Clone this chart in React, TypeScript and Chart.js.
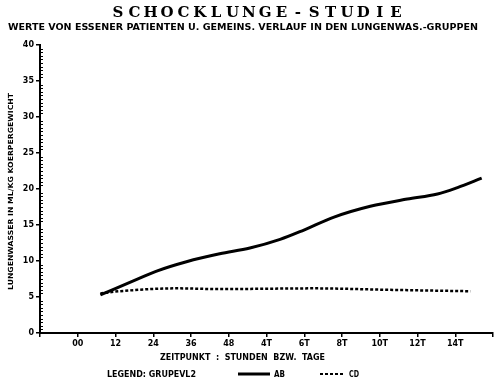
import { useEffect, useRef } from "react";
import { Chart, registerables } from "chart.js";

Chart.register(...registerables);

const TITLE = "SCHOCKLUNGE-STUDIE";
const SUBTITLE = "WERTE VON ESSENER PATIENTEN U. GEMEINS. VERLAUF IN DEN LUNGENWAS.-GRUPPEN";
const X_TITLE = "ZEITPUNKT  :  STUNDEN  BZW.  TAGE";
const Y_TITLE = "LUNGENWASSER IN ML/KG KOERPERGEWICHT";
const LEGEND_TITLE = "LEGEND: GRUPEVL2";
const SERIES_NAMES = ["AB", "CD"];

const xTickLabels = ["", "00", "12", "24", "36", "48", "4T", "6T", "8T", "10T", "12T", "14T", ""];
const yTickValues = [0, 5, 10, 15, 20, 25, 30, 35, 40];

const abX = [1.6, 2.55, 3.09, 3.88, 4.76, 5.56, 6.36, 6.99, 7.79, 8.75, 9.73, 10.53, 11.06, 11.7];
const abY = [5.3, 7.4, 8.6, 9.9, 11.0, 11.8, 13.0, 14.3, 16.1, 17.6, 18.6, 19.3, 20.2, 21.5];

const cdX = [1.6, 2.1, 3.62, 4.76, 7.26, 9.2, 11.4];
const cdY = [5.5, 5.8, 6.2, 6.1, 6.2, 6.0, 5.8];

const SANS = "'DejaVu Sans', sans-serif";
const SERIF = "'DejaVu Serif', serif";

function fitText(ctx: CanvasRenderingContext2D, text: string, x0: number, x1: number, y: number, font: string) {
  ctx.save();
  ctx.font = font;
  ctx.textBaseline = "middle";
  ctx.textAlign = "left";
  const w = ctx.measureText(text).width;
  ctx.translate(x0, y);
  ctx.scale((x1 - x0) / w, 1);
  ctx.fillText(text, 0, 0);
  ctx.restore();
}

const textPlugin = {
  id: "texts",
  afterDraw(chart: any) {
    const ctx: CanvasRenderingContext2D = chart.ctx;
    const y = chart.scales.y;
    const area = chart.chartArea;
    ctx.save();
    ctx.fillStyle = "#000";
    ctx.strokeStyle = "#000";

    // minor ticks on y axis
    ctx.lineWidth = 1;
    for (let v = 0.5; v < 40; v += 0.5) {
      if (v % 5 === 0) continue;
      const py = Math.round(y.getPixelForValue(v)) + 0.5;
      ctx.beginPath();
      ctx.moveTo(area.left, py);
      ctx.lineTo(area.left + 3, py);
      ctx.stroke();
    }

    // title, spaced letters
    ctx.font = `bold 15px ${SERIF}`;
    ctx.textBaseline = "middle";
    ctx.textAlign = "center";
    const chars = TITLE.split("");
    const t0 = 118, t1 = 396;
    chars.forEach((c, i) => {
      const px = t0 + (i * (t1 - t0)) / (chars.length - 1);
      ctx.fillText(c, px, 13);
    });

    fitText(ctx, SUBTITLE, 8, 478, 28, `bold 8px ${SANS}`);
    fitText(ctx, X_TITLE, 160, 325, 358, `bold 8px ${SANS}`);
    fitText(ctx, LEGEND_TITLE, 107, 196, 375, `bold 8px ${SANS}`);

    // legend samples
    ctx.lineWidth = 3;
    ctx.setLineDash([]);
    ctx.beginPath();
    ctx.moveTo(238, 374);
    ctx.lineTo(270, 374);
    ctx.stroke();
    fitText(ctx, SERIES_NAMES[0], 274, 285, 375, `bold 8px ${SANS}`);

    ctx.lineWidth = 2;
    ctx.setLineDash([3, 2]);
    ctx.beginPath();
    ctx.moveTo(320, 374);
    ctx.lineTo(345, 374);
    ctx.stroke();
    ctx.setLineDash([]);
    fitText(ctx, SERIES_NAMES[1], 349, 359, 375, `bold 8px ${SANS}`);

    // y title rotated
    ctx.save();
    ctx.translate(11, 290);
    ctx.rotate(-Math.PI / 2);
    fitText(ctx, Y_TITLE, 0, 197, 0, `bold 7px ${SANS}`);
    ctx.restore();

    ctx.restore();
  },
};

export default function App() {
  const ref = useRef<HTMLCanvasElement>(null);
  useEffect(() => {
    if (!ref.current) return;
    const chart = new Chart(ref.current, {
      type: "line",
      data: {
        datasets: [
          {
            label: SERIES_NAMES[0],
            data: abX.map((x, i) => ({ x, y: abY[i] })),
            borderColor: "#000",
            borderWidth: 3,
            pointRadius: 0,
            cubicInterpolationMode: "monotone",
            fill: false,
          },
          {
            label: SERIES_NAMES[1],
            data: cdX.map((x, i) => ({ x, y: cdY[i] })),
            borderColor: "#000",
            borderWidth: 2.5,
            borderDash: [3, 2],
            pointRadius: 0,
            cubicInterpolationMode: "monotone",
            fill: false,
          },
        ],
      },
      options: {
        animation: false,
        responsive: false,
        devicePixelRatio: 1,
        layout: { padding: { top: 45, left: 0, right: 0, bottom: 0 } },
        plugins: { legend: { display: false }, tooltip: { enabled: false }, title: { display: false } },
        scales: {
          x: {
            type: "linear",
            min: 0,
            max: 12,
            afterFit: (s: any) => { s.height = 50; },
            afterBuildTicks: (s: any) => { s.ticks = xTickLabels.map((_, i) => ({ value: i })); },
            ticks: {
              autoSkip: false,
              maxRotation: 0,
              color: "#000",
              font: { family: SANS, size: 8, weight: "bold" },
              padding: 2,
              callback: (v: any) => xTickLabels[Math.round(v)] ?? "",
            },
            grid: { drawOnChartArea: false, drawTicks: true, tickLength: 4, color: "#000", lineWidth: 1.5 },
            border: { display: true, color: "#000", width: 2 },
          },
          y: {
            type: "linear",
            min: 0,
            max: 40,
            afterFit: (s: any) => { s.width = 40; },
            afterBuildTicks: (s: any) => { s.ticks = yTickValues.map((v) => ({ value: v })); },
            ticks: {
              color: "#000",
              font: { family: SANS, size: 8, weight: "bold" },
              padding: 2,
            },
            grid: { drawOnChartArea: false, drawTicks: true, tickLength: 4, color: "#000", lineWidth: 1.5 },
            border: { display: true, color: "#000", width: 2 },
          },
        },
      },
      plugins: [textPlugin],
    });
    return () => chart.destroy();
  }, []);
  return (
    <div style={{ position: "fixed", left: 0, top: 0, width: 495, height: 383, background: "#fff" }}>
      <canvas ref={ref} width={495} height={383} style={{ width: 495, height: 383 }} />
    </div>
  );
}
